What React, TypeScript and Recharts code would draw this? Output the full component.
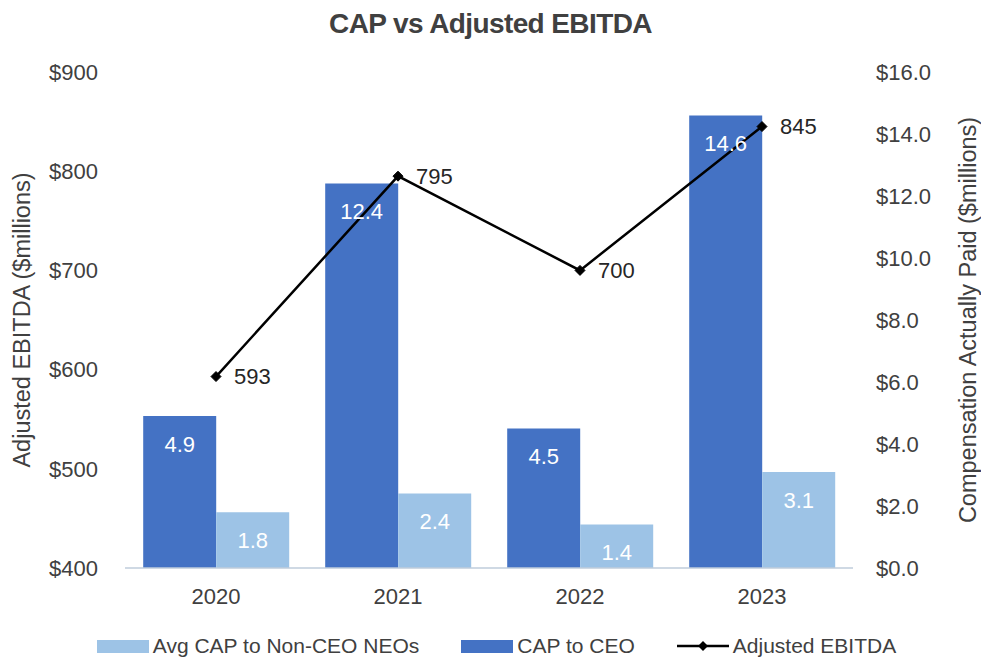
import { ComposedChart, Bar, Line, XAxis, YAxis, LabelList } from "recharts";

const years = ["2020", "2021", "2022", "2023"];
const capCeo = [4.9, 12.4, 4.5, 14.6];
const capNonCeo = [1.8, 2.4, 1.4, 3.1];
const ebitda = [593, 795, 700, 845];

const leftTicks = [400, 500, 600, 700, 800, 900];
const rightTicks = [0, 2, 4, 6, 8, 10, 12, 14, 16];

const DARK = "#4472C4";
const LIGHT = "#9DC3E6";
const TEXT = "#404040";
const FONT = "'Liberation Sans', Arial, sans-serif";

const chartData = years.map((year, i) => ({
  year,
  ceo: capCeo[i],
  nonCeo: capNonCeo[i],
  ebitda: ebitda[i],
}));

// small diamond marker like the Excel line series
const Diamond = (props: any) => {
  const { cx, cy } = props;
  if (cx == null || cy == null) return null;
  const r = 5;
  return (
    <path
      d={`M${cx},${cy - r} L${cx + r},${cy} L${cx},${cy + r} L${cx - r},${cy} Z`}
      fill="#000"
      stroke="#000"
    />
  );
};

const legendItems = [
  { label: "Avg CAP to Non-CEO NEOs", kind: "bar", color: LIGHT },
  { label: "CAP to CEO", kind: "bar", color: DARK },
  { label: "Adjusted EBITDA", kind: "line", color: "#000" },
];

function ChartLegend() {
  return (
    <div
      style={{
        position: "absolute",
        top: 634,
        left: 0,
        width: 981,
        display: "flex",
        justifyContent: "center",
        gap: 42,
        fontFamily: FONT,
        fontSize: 21,
        color: TEXT,
        paddingLeft: 12,
        boxSizing: "border-box",
      }}
    >
      {legendItems.map((item) => (
        <div key={item.label} style={{ display: "flex", alignItems: "center", gap: 4 }}>
          {item.kind === "bar" ? (
            <span style={{ display: "inline-block", width: 52, height: 13, background: item.color }} />
          ) : (
            <svg width={52} height={14}>
              <line x1={0} y1={7} x2={52} y2={7} stroke="#000" strokeWidth={2.5} />
              <path d="M26,2 L31,7 L26,12 L21,7 Z" fill="#000" />
            </svg>
          )}
          <span>{item.label}</span>
        </div>
      ))}
    </div>
  );
}

export default function App() {
  return (
    <div style={{ position: "absolute", left: 0, top: 0, width: 981, height: 658, background: "#fff" }}>
      <div
        style={{
          position: "absolute",
          top: 8,
          left: 0,
          width: 981,
          textAlign: "center",
          fontFamily: FONT,
          fontWeight: "bold",
          fontSize: 28,
          letterSpacing: -0.6,
          color: TEXT,
        }}
      >
        CAP vs Adjusted EBITDA
      </div>
      <ComposedChart
        width={981}
        height={658}
        data={chartData}
        margin={{ top: 72, right: 0, bottom: 60, left: 0 }}
        barCategoryGap="10%"
        barGap={0}
      >
        <XAxis
          dataKey="year"
          height={30}
          tickLine={false}
          tickSize={0}
          tickMargin={20}
          axisLine={{ stroke: "#BFCDDB", strokeWidth: 1.5 }}
          tick={{ fill: TEXT, fontSize: 22, fontFamily: FONT }}
        />
        <YAxis
          yAxisId="left"
          orientation="left"
          width={125}
          domain={[400, 900]}
          ticks={leftTicks}
          tickFormatter={(v: number) => `$${v}`}
          axisLine={false}
          tickLine={false}
          tickSize={0}
          tickMargin={27}
          tick={{ fill: TEXT, fontSize: 22, fontFamily: FONT }}
          label={{
            value: "Adjusted EBITDA ($millions)",
            angle: -90,
            position: "insideLeft",
            offset: 22,
            style: { textAnchor: "middle", fill: TEXT, fontSize: 23.5, fontFamily: FONT },
          }}
        />
        <YAxis
          yAxisId="right"
          orientation="right"
          width={128}
          domain={[0, 16]}
          ticks={rightTicks}
          tickFormatter={(v: number) => `$${v.toFixed(1)}`}
          axisLine={false}
          tickLine={false}
          tickSize={0}
          tickMargin={23}
          tick={{ fill: TEXT, fontSize: 22, fontFamily: FONT }}
          label={{
            value: "Compensation Actually Paid ($millions)",
            angle: -90,
            position: "insideRight",
            offset: 13,
            style: { textAnchor: "middle", fill: TEXT, fontSize: 23.5, fontFamily: FONT },
          }}
        />
        <Bar yAxisId="right" dataKey="ceo" fill={DARK} isAnimationActive={false}>
          <LabelList
            dataKey="ceo"
            position="insideTop"
            offset={20}
            formatter={(v: any) => Number(v).toFixed(1)}
            style={{ fill: "#fff", fontSize: 22, fontFamily: FONT }}
          />
        </Bar>
        <Bar yAxisId="right" dataKey="nonCeo" fill={LIGHT} isAnimationActive={false}>
          <LabelList
            dataKey="nonCeo"
            position="insideTop"
            offset={20}
            formatter={(v: any) => Number(v).toFixed(1)}
            style={{ fill: "#fff", fontSize: 22, fontFamily: FONT }}
          />
        </Bar>
        <Line
          yAxisId="left"
          dataKey="ebitda"
          stroke="#000"
          strokeWidth={2.5}
          dot={<Diamond />}
          activeDot={false}
          isAnimationActive={false}
        >
          <LabelList
            dataKey="ebitda"
            position="right"
            offset={18}
            style={{ fill: "#262626", fontSize: 22, fontFamily: FONT }}
          />
        </Line>
      </ComposedChart>
      <ChartLegend />
    </div>
  );
}
